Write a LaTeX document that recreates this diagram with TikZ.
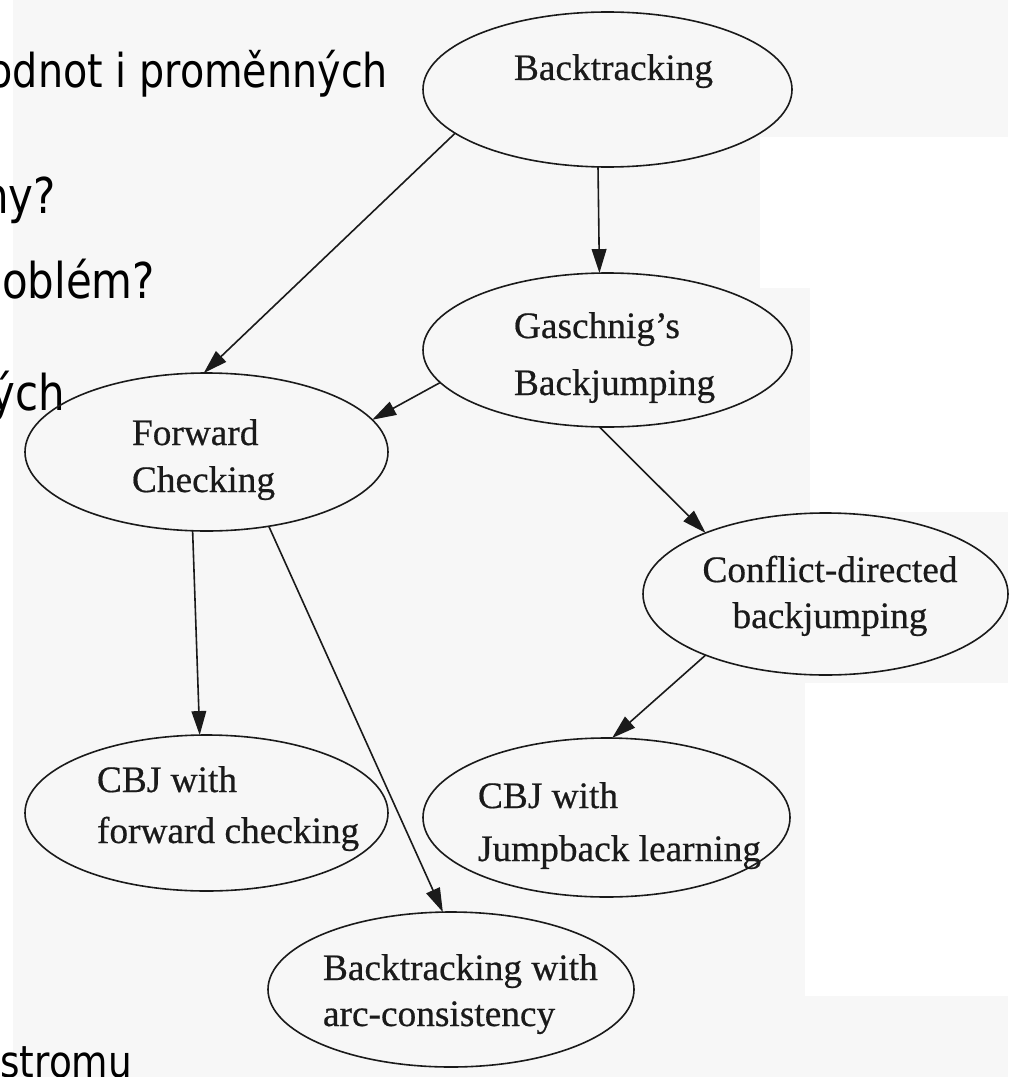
\documentclass[tikz,border=0pt]{standalone}
\usepackage{fontspec}
\setmainfont[FakeBold=0.5]{Liberation Serif}
\newfontfamily\slidefont[FakeStretch=0.85]{DejaVu Sans}
\usetikzlibrary{arrows.meta,shapes.geometric}
\definecolor{scan}{HTML}{F7F7F7}
\definecolor{ink}{HTML}{1A1A1A}
\begin{document}
\begin{tikzpicture}[x=0.75pt,y=-0.75pt,
  every node/.style={inner sep=0pt,outer sep=0pt},
  state/.style={draw=ink,line width=1.2pt,ellipse},
  lbl/.style={text=ink,align=left,anchor=base west},
  edge/.style={draw=ink,line width=1.2pt,-{Triangle[length=18pt,width=11pt]}},
  slidebig/.style={anchor=base east,font=\slidefont\fontsize{37}{44}\selectfont},
  slidesmall/.style={anchor=base east,font=\slidefont\fontsize{35}{40}\selectfont}]
\useasboundingbox (0,0) rectangle (1011,1077);
\clip (0,0) rectangle (1011,1077);
% background patches of the scanned figure
\fill[white] (0,0) rectangle (1011,1077);
\fill[scan] (13,0) rectangle (1008,1077);
\fill[white] (760,137) rectangle (1011,288);
\fill[white] (810,288) rectangle (1011,512);
\fill[white] (805,683) rectangle (1011,996);
% slide text fragments
\node[slidesmall] (s1) at (388,88) {odnot i proměnných};
\node[slidebig] (s2) at (56,213) {ny?};
\node[slidebig] (s3) at (155,298) {oblém?};
\node[slidebig] (s4) at (65,410) {ých};
\node[anchor=base east,font=\slidefont\fontsize{33}{38}\selectfont] (s5) at (132,1077) {stromu};
% ellipses
\node[state,minimum width=276.75pt,minimum height=116.25pt] (bt) at (607.5,89.5) {};
\node[state,minimum width=276.75pt,minimum height=115.5pt] (gj) at (607.5,350) {};
\node[state,minimum width=272.25pt,minimum height=118.5pt] (fc) at (206.5,452) {};
\node[state,minimum width=273.75pt,minimum height=121.5pt] (cd) at (825.5,594) {};
\node[state,minimum width=272.25pt,minimum height=117pt] (cf) at (206.5,813) {};
\node[state,minimum width=275.25pt,minimum height=119.25pt] (cj) at (606.5,817.5) {};
\node[state,minimum width=274.5pt,minimum height=116.25pt] (ac) at (451,989.5) {};
% labels (base anchor = baseline of the last line)
\node[lbl,font=\fontsize{28}{28}\selectfont] (btl) at (514,80) {Backtracking};
\node[lbl,font=\fontsize{28}{42.75}\selectfont] (gjl) at (514,395) {Gaschnig's\\Backjumping};
\node[lbl,font=\fontsize{28}{35.25}\selectfont] (fcl) at (132,492) {Forward\\Checking};
\node[text=ink,align=center,anchor=base,font=\fontsize{28}{34.5}\selectfont] (cdl) at (830,628) {Conflict-directed\\backjumping};
\node[lbl,font=\fontsize{28}{38.25}\selectfont] (cfl) at (97,843) {CBJ with\\forward checking};
\node[lbl,font=\fontsize{28}{39.75}\selectfont] (cjl) at (478,861) {CBJ with\\Jumpback learning};
\node[lbl,font=\fontsize{28}{34.5}\selectfont] (acl) at (323,1026) {Backtracking with\\arc-consistency};
% connectors
\draw[edge] (bt.196.8) -- (fc.92.4);
\draw[edge] (bt.263.7) -- (gj.96.3);
\draw[edge] (gj.191.1) -- (fc.11.5);
\draw[edge] (gj.264.5) -- (cd.153.3);
\draw[edge] (fc.260.3) -- (cf.95.5);
\draw[edge] (fc.310.8) -- (ac.96.1);
\draw[edge] (cd.207.5) -- (cj.86);
\end{tikzpicture}
\end{document}
